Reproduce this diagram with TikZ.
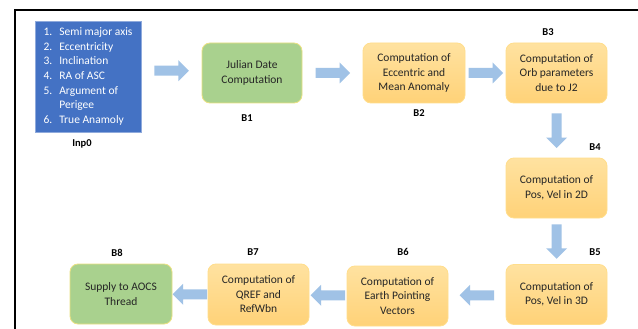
\documentclass[tikz,border=0pt]{standalone}
\usepackage{fontspec}
\setmainfont{Carlito}
\usetikzlibrary{calc}
\definecolor{txt}{RGB}{38,38,38}
\definecolor{ortop}{RGB}{255,226,160}
\definecolor{orbot}{RGB}{255,210,120}
\definecolor{orbd}{RGB}{255,222,140}
\definecolor{grfill}{RGB}{169,209,142}
\definecolor{grbd}{RGB}{235,225,130}
\definecolor{inpblue}{RGB}{68,114,196}
\definecolor{inpbd}{RGB}{143,170,220}
\definecolor{arr}{RGB}{160,194,230}
\begin{document}
\begin{tikzpicture}[x=1pt,y=-1pt,
  box/.style={rounded corners=8pt, minimum width=101pt, minimum height=60pt,
    align=center, text=txt, font=\fontsize{11.5}{14.5}\selectfont,
    line width=0.8pt, inner sep=2pt},
  obox/.style={box, draw=orbd, top color=ortop, bottom color=orbot},
  gbox/.style={box, draw=grbd, fill=grfill},
  lbl/.style={font=\fontsize{10.5}{12}\selectfont\bfseries, text=black, inner sep=0pt},
  barrow/.pic={\fill[arr] (-17,-5) -- (7,-5) -- (7,-10.5) -- (17.5,0) -- (7,10.5) -- (7,5) -- (-17,5) -- cycle;}
]
\useasboundingbox (0,0) rectangle (638,329);
\fill[white] (0,0) rectangle (638,329);
\draw[line width=1.3pt] (15,329) -- (15,10) -- (638,10);

\node[fill=inpblue, draw=inpbd, line width=0.6pt, minimum width=106pt, minimum height=111pt,
  text=white, font=\fontsize{11.5}{14.6}\selectfont, inner sep=0pt] (inp) at (88,76.5)
  {\begin{tabular}{@{}r@{\hspace{7pt}}l@{}}
   1. & Semi major axis\\
   2. & Eccentricity\\
   3. & Inclination\\
   4. & RA of ASC\\
   5. & Argument of\\
      & Perigee\\
   6. & True Anamoly
   \end{tabular}};

\node[gbox, minimum width=100pt] (b1) at (252,73) {Julian Date\\Computation};
\node[obox, minimum width=102pt] (b2) at (414,73) {Computation of\\Eccentric and\\Mean Anomaly};
\node[obox] (b3) at (556.5,73) {Computation of\\Orb parameters\\due to J2};
\node[obox] (b4) at (556.5,188) {Computation of\\Pos, Vel in 2D};
\node[obox] (b5) at (556.5,294.5) {Computation of\\Pos, Vel in 3D};
\node[obox] (b6) at (397.5,296) {Computation of\\Earth Pointing\\Vectors};
\node[obox, minimum height=61pt] (b7) at (258.5,294.5) {Computation of\\QREF and\\RefWbn};
\node[gbox, minimum width=102pt] (b8) at (121,294) {Supply to AOCS\\Thread};

\node[lbl] (linp) at (82,144) {Inp0};
\node[lbl] (lb1) at (247,118) {B1};
\node[lbl] (lb2) at (419,113) {B2};
\node[lbl] (lb3) at (548,32) {B3};
\node[lbl] (lb4) at (595,147) {B4};
\node[lbl] (lb5) at (595,252) {B5};
\node[lbl] (lb6) at (403,252) {B6};
\node[lbl] (lb7) at (253,252) {B7};
\node[lbl] (lb8) at (117,253) {B8};

\coordinate (m1) at ($(inp.east)!0.5!(b1.west)+(0,-4)$);
\coordinate (m2) at ($(b1.east)!0.5!(b2.west)$);
\coordinate (m3) at ($(b2.east)!0.5!(b3.west)$);
\coordinate (m4) at ($(b3.south)!0.5!(b4.north)$);
\coordinate (m5) at ($(b4.south)!0.5!(b5.north)$);
\coordinate (m6) at ($(b5.west)!0.5!(b6.east)$);
\coordinate (m7) at ($(b6.west)!0.5!(b7.east)$);
\coordinate (m8) at ($(b7.west)!0.5!(b8.east)$);
\pic at (m1) {barrow};
\pic at (m2) {barrow};
\pic at (m3) {barrow};
\pic[rotate=-90] at (m4) {barrow};
\pic[rotate=-90] at (m5) {barrow};
\pic[rotate=180] at (m6) {barrow};
\pic[rotate=180] at (m7) {barrow};
\pic[rotate=180] at (m8) {barrow};
\end{tikzpicture}
\end{document}
